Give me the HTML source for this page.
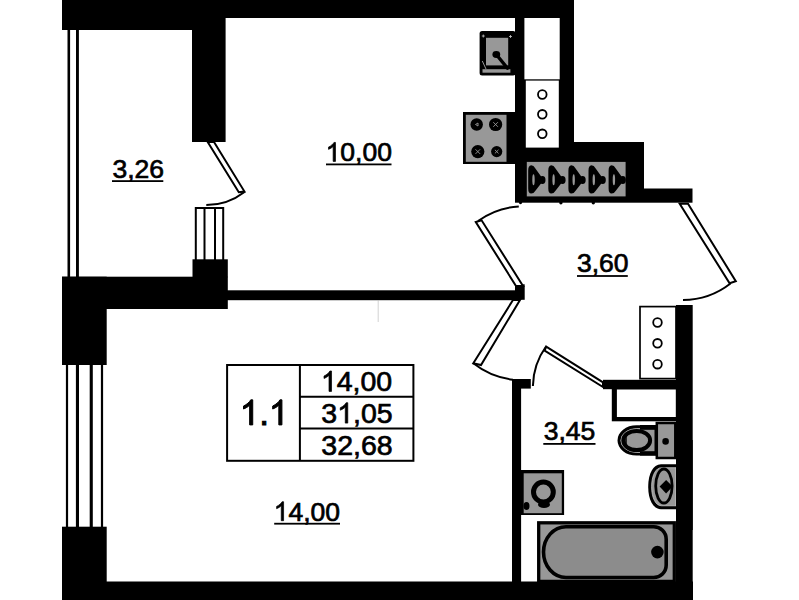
<!DOCTYPE html>
<html><head><meta charset="utf-8">
<style>
html,body{margin:0;padding:0;background:#fff;overflow:hidden;}
svg{display:block;}
text{font-family:"Liberation Sans",sans-serif;fill:#000;stroke:#000;stroke-width:0.45px;}
</style></head>
<body>
<svg width="799" height="600" viewBox="0 0 799 600">
<g fill="#000">
  <rect x="62" y="0" width="163" height="30"/>
  <rect x="225" y="0" width="349" height="18"/>
  <rect x="192" y="0" width="33.6" height="142"/>
  <rect x="515" y="18" width="59" height="124"/>
  <rect x="515" y="142" width="129" height="60.7"/>
  <rect x="644" y="188.5" width="48.5" height="14.2"/>
  <rect x="192.5" y="259.3" width="35.3" height="18"/>
  <rect x="62" y="276.7" width="165.8" height="32.3"/>
  <rect x="62" y="276.7" width="44.7" height="88.3"/>
  <rect x="226" y="290.3" width="289.5" height="9.9"/>
  <rect x="515" y="284.3" width="9.7" height="15.5"/>
  <rect x="62" y="526.7" width="44.7" height="73.3"/>
  <rect x="62" y="581.5" width="631" height="18.5"/>
  <rect x="676" y="305" width="16.7" height="295"/>
  <rect x="603" y="379.8" width="73" height="9.4"/>
  <rect x="512" y="379" width="9.1" height="203"/>
  <rect x="512" y="379" width="18.8" height="9.6"/>
</g>
<rect x="524.4" y="18" width="35.3" height="61.3" fill="#fff"/>
<rect x="525.8" y="80.6" width="33" height="67" fill="#fff"/>
<g fill="none" stroke="#000" stroke-width="1.8">
  <circle cx="542.3" cy="94.5" r="4.3"/>
  <circle cx="542.3" cy="114.3" r="4.3"/>
  <circle cx="542.3" cy="133.8" r="4.3"/>
</g>
<rect x="526.8" y="161.9" width="98.8" height="34.5" fill="#989898"/>
<g fill="#000"><path d="M531.2,165.3 Q528.2,165.5 528.2,170.5 V188.5 Q528.2,193.6 531.2,193.6 Q533.7,193.6 535.2,191 L542.2,182 V178 L535.2,168.3 Q533.7,165.3 531.2,165.3 Z"/><ellipse cx="542.4" cy="180" rx="3.1" ry="4"/><ellipse cx="533.5" cy="179.7" rx="1.2" ry="5.5" fill="#989898"/><path d="M551.3,165.3 Q548.3,165.5 548.3,170.5 V188.5 Q548.3,193.6 551.3,193.6 Q553.8,193.6 555.3,191 L562.3,182 V178 L555.3,168.3 Q553.8,165.3 551.3,165.3 Z"/><ellipse cx="562.5" cy="180" rx="3.1" ry="4"/><ellipse cx="553.6" cy="179.7" rx="1.2" ry="5.5" fill="#989898"/><path d="M571.4,165.3 Q568.4,165.5 568.4,170.5 V188.5 Q568.4,193.6 571.4,193.6 Q573.9,193.6 575.4,191 L582.4,182 V178 L575.4,168.3 Q573.9,165.3 571.4,165.3 Z"/><ellipse cx="582.6" cy="180" rx="3.1" ry="4"/><ellipse cx="573.7" cy="179.7" rx="1.2" ry="5.5" fill="#989898"/><path d="M591.5,165.3 Q588.5,165.5 588.5,170.5 V188.5 Q588.5,193.6 591.5,193.6 Q594.0,193.6 595.5,191 L602.5,182 V178 L595.5,168.3 Q594.0,165.3 591.5,165.3 Z"/><ellipse cx="602.7" cy="180" rx="3.1" ry="4"/><ellipse cx="593.8" cy="179.7" rx="1.2" ry="5.5" fill="#989898"/><path d="M611.6,165.3 Q608.6,165.5 608.6,170.5 V188.5 Q608.6,193.6 611.6,193.6 Q614.1,193.6 615.6,191 L622.6,182 V178 L615.6,168.3 Q614.1,165.3 611.6,165.3 Z"/><ellipse cx="622.8" cy="180" rx="3.1" ry="4"/><ellipse cx="613.9" cy="179.7" rx="1.2" ry="5.5" fill="#989898"/><circle cx="520.5" cy="202.6" r="1.6"/><circle cx="560.9" cy="202.8" r="1.7"/><circle cx="593.3" cy="202.8" r="1.7"/></g>
<rect x="463" y="112" width="52.5" height="52" fill="#000"/>
<rect x="465.8" y="114.8" width="40.7" height="47" fill="#989898"/>
<g fill="#000">
  <circle cx="476.7" cy="124.5" r="6.2"/>
  <circle cx="495.6" cy="124.5" r="6.6"/>
  <circle cx="477.8" cy="151.6" r="6.6"/>
  <circle cx="496.7" cy="151.6" r="5.6"/>
</g>
<g stroke="#989898" stroke-width="0.9">
  <path d="M493.3 122.2 L497.9 126.8 M497.9 122.2 L493.3 126.8"/>
  <path d="M475.5 149.3 L480.1 153.9 M480.1 149.3 L475.5 153.9"/>
  <path d="M494.9 149.8 L498.5 153.4 M498.5 149.8 L494.9 153.4"/>
  <path d="M475.5 124.5 L478 123 V126 Z"/>
</g>
<rect x="479.6" y="31" width="36" height="44.6" rx="2.5" fill="#000"/>
<rect x="486" y="37.8" width="22.2" height="27.6" fill="#989898"/>
<path d="M482.5 69.2 H510.4 V72.7 H482.5 Z" fill="#989898"/>
<path d="M482.3 61 L486 69" stroke="#989898" stroke-width="1"/>
<g stroke="#c8c8c8" stroke-width="0.8"><path d="M481.8 36 H484.8 M483.3 34.5 V37.5 M509 36.5 H512 M510.5 35 V38"/></g>
<ellipse cx="496.3" cy="54.5" rx="3.9" ry="3.4" fill="#000"/>
<path d="M496.3 54.5 L507.5 68.3" stroke="#000" stroke-width="3.4" stroke-linecap="round"/>
<g fill="#000">
  <rect x="67.5" y="30" width="2.6" height="247"/>
  <rect x="76" y="30" width="2.9" height="247"/>
  <rect x="65.9" y="365" width="2.2" height="162"/>
  <rect x="75.9" y="365" width="3.1" height="162"/>
  <rect x="89.7" y="365" width="3.1" height="162"/>
  <rect x="100.9" y="365" width="2.2" height="162"/>
</g>
<path d="M195.8 260 V208 H223.2 V260 M204.5 208 V260 M215 208 V260" fill="none" stroke="#000" stroke-width="2"/>
<rect x="640" y="306.6" width="36" height="72" fill="#fff" stroke="#000" stroke-width="1.7"/>
<g fill="none" stroke="#000" stroke-width="1.8">
  <circle cx="657.5" cy="322.5" r="4.3"/>
  <circle cx="657.5" cy="343.3" r="4.3"/>
  <circle cx="657.5" cy="364.2" r="4.3"/>
</g>
<rect x="611.8" y="388" width="64.3" height="33.3" fill="#000"/>
<rect x="616.9" y="389.5" width="58.9" height="27.5" fill="#fff"/>
<g fill="#fff" stroke="#000" stroke-width="2" stroke-linejoin="miter">
  <polygon points="207.7,142 214,142 244.5,191.6 238.8,192.3"/>
  <polygon points="475.8,222 481.6,220.3 523,286 516,286"/>
  <polygon points="513,300 520,300 481,365 473.3,363.3"/>
  <polygon points="546.2,346.6 603,382.3 603,387 544.6,350.6"/>
  <polygon points="679.7,203.7 688,203.7 735.8,281.2 729.6,283.3"/>
</g>
<g fill="none" stroke="#000" stroke-width="2">
  <path d="M244.5 192 A63 63 0 0 1 206.3 205.1"/>
  <path d="M478 221 A77 77 0 0 1 518.8 206.4"/>
  <path d="M473.3 363.3 A79 79 0 0 0 513 379.7"/>
  <path d="M546 346.5 A70 70 0 0 0 532.9 386"/>
  <path d="M730.5 283.5 A78 78 0 0 1 683 300"/>
</g>
<rect x="538.7" y="522.8" width="135.6" height="58.6" fill="#989898" stroke="#000" stroke-width="3.3"/>
<path d="M566 526.7 H653.5 A12.5 12.5 0 0 1 666.2 539.2 V565 A12.5 12.5 0 0 1 653.5 577.5 H566 A22.5 25.4 0 0 1 543.5 552.1 A22.5 25.4 0 0 1 566 526.7 Z" fill="#8c8c8c" stroke="#000" stroke-width="3.6"/>
<circle cx="657.4" cy="552.1" r="6.3" fill="#000"/>
<rect x="521" y="470" width="43.1" height="45" fill="#000"/>
<rect x="523.7" y="473.3" width="38.1" height="39.9" fill="#989898"/>
<circle cx="543.4" cy="492" r="9.9" fill="#989898" stroke="#000" stroke-width="5"/>
<ellipse cx="544" cy="504.5" rx="6" ry="3.6" fill="#000"/>
<ellipse cx="526.5" cy="506" rx="3" ry="4" fill="#000"/>
<rect x="656.8" y="423" width="18.5" height="35" fill="#989898" stroke="#000" stroke-width="2.5"/>
<circle cx="665.6" cy="441.4" r="3.3" fill="#000"/>
<path d="M636.5 425.2 H656.5 V455.6 H636.5 A19 15.2 0 0 1 636.5 425.2 Z" fill="#000"/>
<path d="M636.5 428.4 H654.5 V452.6 H636.5 A15.8 12.1 0 0 1 636.5 428.4 Z" fill="#989898"/>
<rect x="640" y="425" width="16" height="4.8" fill="#000"/><rect x="640" y="451.2" width="16" height="4.4" fill="#000"/>
<path d="M640 428.6 H636.5 A15.6 11.9 0 0 0 636.5 452.4 H640" fill="none" stroke="#d0d0d0" stroke-width="0.7"/>
<ellipse cx="636.7" cy="440.5" rx="13.4" ry="9.6" fill="#989898" stroke="#000" stroke-width="4"/>
<path d="M626 435 V446" stroke="#000" stroke-width="1.5"/>
<path d="M676 464.3 H661 C653 464.3 648.2 474 648.2 486.7 C648.2 499.5 653 509.2 661 509.2 H676 Z" fill="#000"/>
<path d="M676 467.7 H661.5 C655.5 467.7 651.6 476 651.6 486.7 C651.6 497.5 655.5 505.8 661.5 505.8 H676 Z" fill="#989898" stroke="#d8d8d8" stroke-width="0.7"/>
<ellipse cx="663.9" cy="486" rx="8.2" ry="17" fill="#989898" stroke="#000" stroke-width="2.8"/>
<polygon points="659.6,486.6 666.1,480 672.6,486.6 666.1,493.4" fill="#000"/>
<rect x="676" y="440" width="16.7" height="90" fill="#000"/>
<g fill="#000">
<text x="112.39 127.13 134.49 149.23" y="177.64" font-size="26.5" style="stroke-width:0.7px">3,26</text>
<path transform="translate(325.61,161.40) scale(0.01294,-0.01294)" d="M583 0V1147Q518 1085 412 1023Q305 960 223 930V1104Q371 1174 482 1272Q594 1370 647 1466H763V0Z" stroke="#000" stroke-width="0.7" vector-effect="non-scaling-stroke"/><text x="340.35 355.09 362.45 377.19" y="161.40" font-size="26.5" style="stroke-width:0.7px">0,00</text>
<text x="576.99 591.73 599.09 613.83" y="272.14" font-size="26.5" style="stroke-width:0.7px">3,60</text>
<text x="543.69 558.43 565.79 580.53" y="440.44" font-size="26.5" style="stroke-width:0.7px">3,45</text>
<path transform="translate(273.71,520.70) scale(0.01294,-0.01294)" d="M583 0V1147Q518 1085 412 1023Q305 960 223 930V1104Q371 1174 482 1272Q594 1370 647 1466H763V0Z" stroke="#000" stroke-width="0.7" vector-effect="non-scaling-stroke"/><text x="288.45 303.19 310.55 325.29" y="520.70" font-size="26.5" style="stroke-width:0.7px">4,00</text>
<rect x="112" y="180.2" width="51.3" height="1.8"/><rect x="326" y="163.5" width="65.5" height="1.8"/><rect x="577" y="275.1" width="50.8" height="1.8"/><rect x="543.3" y="443" width="52.2" height="1.8"/><rect x="274.2" y="522.8" width="65.8" height="1.8"/>
</g>
<g fill="none" stroke="#000" stroke-width="2">
  <rect x="227.1" y="365" width="186.3" height="95.8"/>
  <path d="M299.9 365 V460.8 M299.9 396.7 H413.4 M299.9 428.6 H413.4"/>
</g>
<g fill="#000">
<path transform="translate(320.90,391.40) scale(0.01392,-0.01392)" d="M583 0V1147Q518 1085 412 1023Q305 960 223 930V1104Q371 1174 482 1272Q594 1370 647 1466H763V0Z" stroke="#000" stroke-width="0.7" vector-effect="non-scaling-stroke"/><text x="336.75 352.60 360.52 376.37" y="391.40" font-size="28.5" style="stroke-width:0.7px">4,00</text>
<path transform="translate(337.16,423.12) scale(0.01392,-0.01392)" d="M583 0V1147Q518 1085 412 1023Q305 960 223 930V1104Q371 1174 482 1272Q594 1370 647 1466H763V0Z" stroke="#000" stroke-width="0.7" vector-effect="non-scaling-stroke"/><text x="321.31 353.02 360.93 376.78" y="423.12" font-size="28.5" style="stroke-width:0.7px">3,05</text>
<text x="321.31 337.16 353.02 360.93 376.78" y="455.12" font-size="28.5" style="stroke-width:0.7px">32,68</text>
<path transform="translate(239.69,424.90) scale(0.01709,-0.01709)" d="M583 0V1147Q518 1085 412 1023Q305 960 223 930V1104Q371 1174 482 1272Q594 1370 647 1466H763V0Z" stroke="#000" stroke-width="1.0" vector-effect="non-scaling-stroke"/><path transform="translate(268.88,424.90) scale(0.01709,-0.01709)" d="M583 0V1147Q518 1085 412 1023Q305 960 223 930V1104Q371 1174 482 1272Q594 1370 647 1466H763V0Z" stroke="#000" stroke-width="1.0" vector-effect="non-scaling-stroke"/><text x="259.15" y="424.90" font-size="35" style="stroke-width:1.0px">.</text>
</g>
<path d="M378.2 300 V322" stroke="#c0c0c0" stroke-width="0.7"/>
</svg>
</body></html>
